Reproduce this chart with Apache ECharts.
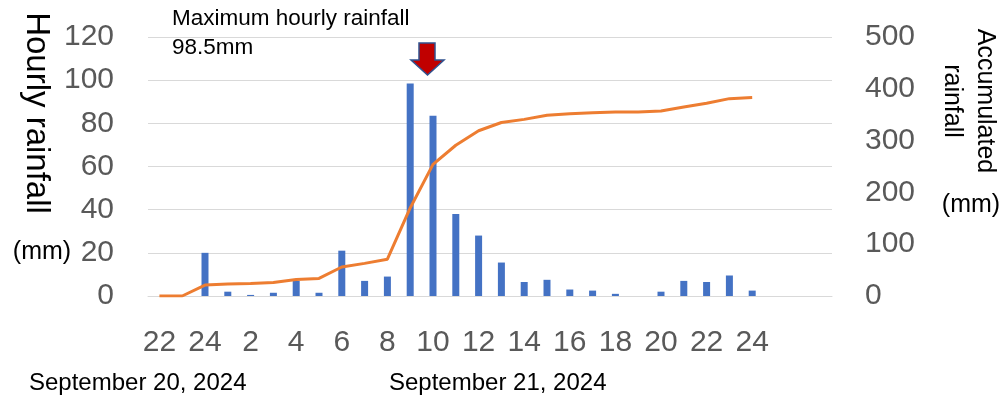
<!DOCTYPE html>
<html lang="en">
<head>
    <meta charset="UTF-8">
    <title>Rainfall</title>
    <script src="https://cdn.jsdelivr.net/npm/echarts@6/dist/echarts.min.js"></script>
    <style>
        body { margin: 0; background: #fff; }
    </style>
</head>
<body>
<div id="main" style="width: 1001px;height:400px;"></div>
<script type="text/javascript">
    // hours from 22h on Sept 20 to 24h on Sept 21, plus a few empty slots at the end
    var hours = ['22', '23', '24', '1', '2', '3', '4', '5', '6', '7', '8', '9', '10', '11', '12',
        '13', '14', '15', '16', '17', '18', '19', '20', '21', '22', '23', '24', '', '', ''];
    // hourly rainfall (mm)
    var hourly = [0, 0, 20, 2, 0.5, 1.5, 7, 1.5, 21, 7, 9, 98.5, 83.5, 38, 28, 15.5, 6.5, 7.5,
        3, 2.5, 1, 0, 2, 7, 6.5, 9.5, 2.5];
    // accumulated rainfall (mm)
    var accumulated = [0, 0, 21, 23, 24, 26, 32, 34, 56, 63, 71, 170, 254, 291, 319, 335, 341,
        349, 352, 354, 355, 355, 357, 365, 372, 381, 383];

    var font = 'Liberation Sans, Arial, sans-serif';
    var tickGray = '#595959';

    var myChart = echarts.init(document.getElementById('main'));

    var option = {
        animation: false,
        grid: {
            left: 148,
            right: 169,
            top: 37,
            bottom: 104
        },
        xAxis: {
            type: 'category',
            data: hours,
            boundaryGap: true,
            axisTick: { show: false },
            axisLine: { lineStyle: { color: '#d9d9d9', width: 1 } },
            axisLabel: {
                interval: 1,
                margin: 32,
                fontSize: 30,
                color: tickGray,
                fontFamily: font
            }
        },
        yAxis: [
            {
                type: 'value',
                min: 0,
                max: 120,
                interval: 20,
                axisLine: { show: false },
                axisTick: { show: false },
                splitLine: { lineStyle: { color: '#d9d9d9', width: 1 } },
                axisLabel: {
                    margin: 34,
                    fontSize: 30,
                    color: tickGray,
                    fontFamily: font
                }
            },
            {
                type: 'value',
                min: 0,
                max: 500,
                interval: 100,
                position: 'right',
                axisLine: { show: false },
                axisTick: { show: false },
                splitLine: { show: false },
                axisLabel: {
                    margin: 33,
                    fontSize: 30,
                    color: tickGray,
                    fontFamily: font
                }
            }
        ],
        series: [
            {
                name: 'Hourly rainfall',
                type: 'bar',
                data: hourly,
                barWidth: 7,
                itemStyle: { color: '#4472C4' }
            },
            {
                name: 'Accumulated rainfall',
                type: 'line',
                yAxisIndex: 1,
                data: accumulated,
                showSymbol: false,
                symbol: 'none',
                lineStyle: { color: '#ED7D31', width: 3 }
            }
        ],
        graphic: [
            // axis titles
            {
                type: 'text', x: 36, y: 113, rotation: -Math.PI / 2,
                style: { text: 'Hourly rainfall', fontSize: 33, fontFamily: font, fill: '#000',
                    align: 'center', verticalAlign: 'middle' }
            },
            {
                type: 'text', x: 42, y: 252,
                style: { text: '(mm)', fontSize: 25, fontFamily: font, fill: '#000',
                    align: 'center', verticalAlign: 'middle' }
            },
            {
                type: 'text', x: 985, y: 101, rotation: -Math.PI / 2,
                style: { text: 'Accumulated', fontSize: 25, fontFamily: font, fill: '#000',
                    align: 'center', verticalAlign: 'middle' }
            },
            {
                type: 'text', x: 952, y: 101, rotation: -Math.PI / 2,
                style: { text: 'rainfall', fontSize: 25, fontFamily: font, fill: '#000',
                    align: 'center', verticalAlign: 'middle' }
            },
            {
                type: 'text', x: 971, y: 205,
                style: { text: '(mm)', fontSize: 25, fontFamily: font, fill: '#000',
                    align: 'center', verticalAlign: 'middle' }
            },
            // annotation of the peak
            {
                type: 'text', x: 172, y: 19,
                style: { text: 'Maximum hourly rainfall', fontSize: 22.5, fontFamily: font, fill: '#000',
                    align: 'left', verticalAlign: 'middle' }
            },
            {
                type: 'text', x: 172, y: 48,
                style: { text: '98.5mm', fontSize: 22.5, fontFamily: font, fill: '#000',
                    align: 'left', verticalAlign: 'middle' }
            },
            {
                type: 'polygon',
                shape: { points: [[419, 43], [435, 43], [435, 60], [444, 60], [427.5, 75], [411, 60], [419, 60]] },
                style: { fill: '#C00000', stroke: '#2F528F', lineWidth: 1.5 }
            },
            // dates under the hours
            {
                type: 'text', x: 29, y: 383,
                style: { text: 'September 20, 2024', fontSize: 24, fontFamily: font, fill: '#000',
                    align: 'left', verticalAlign: 'middle' }
            },
            {
                type: 'text', x: 389, y: 383,
                style: { text: 'September 21, 2024', fontSize: 24, fontFamily: font, fill: '#000',
                    align: 'left', verticalAlign: 'middle' }
            }
        ]
    };

    myChart.setOption(option);
</script>
</body>
</html>
